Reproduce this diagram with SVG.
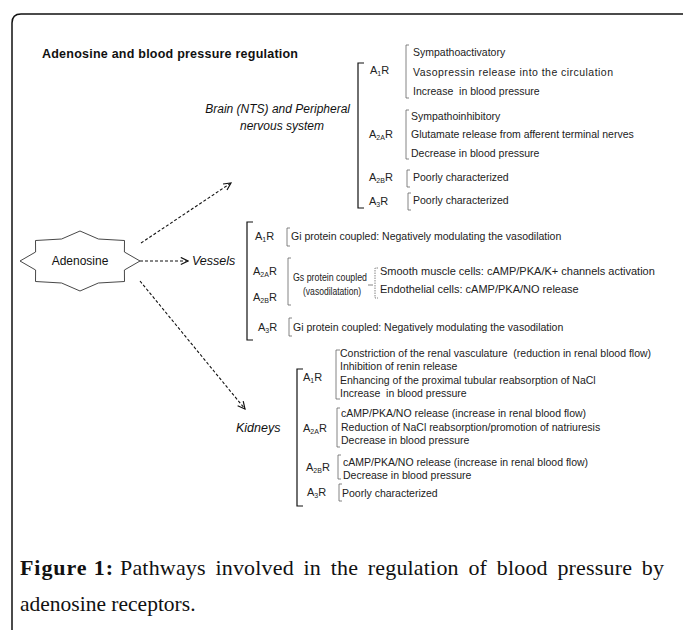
<svg xmlns="http://www.w3.org/2000/svg" width="683" height="630" viewBox="0 0 683 630">
<style>
.t{font-family:"Liberation Sans",Arial,sans-serif;font-size:10.5px;fill:#222}
.it{font-family:"Liberation Sans",Arial,sans-serif;font-style:italic;font-size:12px;fill:#111}
.r{font-family:"Liberation Sans",Arial,sans-serif;font-size:11px;fill:#222}
.s{font-size:7px}
.ttl{font-family:"Liberation Sans",Arial,sans-serif;font-size:12.5px;font-weight:bold;fill:#111}
.br{fill:none;stroke:#111;stroke-width:1.2}
.sb{fill:none;stroke:#666;stroke-width:0.8}
.c{fill:none;stroke:#111;stroke-width:1.1;stroke-dasharray:3 2}
.cap{font-family:"Liberation Serif","Times New Roman",serif;font-size:22px;fill:#111}
</style>
<defs>
<marker id="ah" viewBox="0 0 10 10" refX="9" refY="5" markerWidth="9" markerHeight="9" orient="auto" markerUnits="userSpaceOnUse"><path d="M1,1 L9,5 L1,9" fill="none" stroke="#111" stroke-width="1.3"/></marker>
</defs>
<rect width="683" height="630" fill="#fff"/>
<path d="M12,630 V23 Q12,14 21,14 H683" fill="none" stroke="#111" stroke-width="1.5"/>
<text class="ttl" x="42" y="58" textLength="256" lengthAdjust="spacing">Adenosine and blood pressure regulation</text>

<g id="adenosine">
<polygon points="80,231 98.4,239 124.5,240.5 124.4,252 140,261 124.4,270 124.5,281.5 98.4,283 80,291 61.6,283 35.5,281.5 35.6,270 20,261 35.6,252 35.5,240.5 61.6,239" fill="#fff" stroke="#333" stroke-width="0.9"/>
<text x="80" y="265" text-anchor="middle" style="font-family:'Liberation Sans',Arial,sans-serif;font-size:12px;fill:#111">Adenosine</text>
</g>

<g id="connectors">
<path class="c" d="M141,243 L231,183" marker-end="url(#ah)"/>
<path class="c" d="M140,261 L188,261" marker-end="url(#ah)"/>
<path class="c" d="M140,281 L245,409" marker-end="url(#ah)"/>
</g>

<g id="brain">
<text class="it" x="350" y="113" text-anchor="end">Brain (NTS) and Peripheral</text>
<text class="it" x="282" y="130" text-anchor="middle">nervous system</text>
<path class="br" d="M364,63 H358 V208 H364"/>
<text class="r" x="370" y="74">A<tspan class="s" dy="2">1</tspan><tspan dy="-2">R</tspan></text>
<path class="sb" d="M409,45 H406 V98 H409"/>
<text class="t" x="413" y="56">Sympathoactivatory</text>
<text class="t" x="413" y="76" textLength="200" lengthAdjust="spacing">Vasopressin release into the circulation</text>
<text class="t" x="413" y="95">Increase &#160;in blood pressure</text>
<text class="r" x="369" y="138">A<tspan class="s" dy="2">2A</tspan><tspan dy="-2">R</tspan></text>
<path class="sb" d="M409,110 H406 V159 H409"/>
<text class="t" x="411" y="120">Sympathoinhibitory</text>
<text class="t" x="411" y="138">Glutamate release from afferent terminal nerves</text>
<text class="t" x="411" y="157">Decrease in blood pressure</text>
<text class="r" x="369" y="181">A<tspan class="s" dy="2">2B</tspan><tspan dy="-2">R</tspan></text>
<path class="sb" d="M410,170 H407 V187 H410"/>
<text class="t" x="413" y="181">Poorly characterized</text>
<text class="r" x="369" y="205">A<tspan class="s" dy="2">3</tspan><tspan dy="-2">R</tspan></text>
<path class="sb" d="M411,193 H408 V210 H411"/>
<text class="t" x="413" y="204">Poorly characterized</text>
</g>

<g id="vessels">
<text class="it" x="192" y="265" style="font-size:12.5px">Vessels</text>
<path class="br" d="M253,222 H247 V340 H253"/>
<text class="r" x="255" y="240">A<tspan class="s" dy="2">1</tspan><tspan dy="-2">R</tspan></text>
<path class="sb" d="M290,228 H287 V246 H290"/>
<text class="t" x="291" y="240">Gi protein coupled: Negatively modulating the vasodilation</text>
<text class="r" x="253" y="275">A<tspan class="s" dy="2">2A</tspan><tspan dy="-2">R</tspan></text>
<text class="r" x="253" y="301">A<tspan class="s" dy="2">2B</tspan><tspan dy="-2">R</tspan></text>
<path class="sb" d="M291,258 H288 V305 H291"/>
<text class="t" x="293" y="281" textLength="74" lengthAdjust="spacingAndGlyphs">Gs protein coupled</text>
<text class="t" x="303" y="295" textLength="58" lengthAdjust="spacingAndGlyphs">(vasodilatation)</text>
<path class="sb" d="M368,285 H373"/>
<path class="sb" d="M378,268 H375 V298 H378" stroke-dasharray="1.5 1"/>
<text class="t" x="380" y="275" style="font-size:11px">Smooth muscle cells: cAMP/PKA/K+ channels activation</text>
<text class="t" x="380" y="293" style="font-size:11px">Endothelial cells: cAMP/PKA/NO release</text>
<text class="r" x="258" y="331">A<tspan class="s" dy="2">3</tspan><tspan dy="-2">R</tspan></text>
<path class="sb" d="M292,318 H289 V336 H292"/>
<text class="t" x="293" y="331">Gi protein coupled: Negatively modulating the vasodilation</text>
</g>

<g id="kidneys">
<text class="it" x="236" y="432" style="font-size:12.5px">Kidneys</text>
<path class="br" d="M303,369 H297 V506 H303"/>
<text class="r" x="303" y="381">A<tspan class="s" dy="2">1</tspan><tspan dy="-2">R</tspan></text>
<path class="sb" d="M340,350 H336 V399 H340"/>
<text class="t" x="340" y="357">Constriction of the renal vasculature &#160;(reduction in renal blood flow)</text>
<text class="t" x="340" y="370">Inhibition of renin release</text>
<text class="t" x="340" y="384">Enhancing of the proximal tubular reabsorption of NaCl</text>
<text class="t" x="340" y="397">Increase &#160;in blood pressure</text>
<text class="r" x="303" y="432">A<tspan class="s" dy="2">2A</tspan><tspan dy="-2">R</tspan></text>
<path class="sb" d="M340,408 H337 V447 H340"/>
<text class="t" x="341" y="417">cAMP/PKA/NO release (increase in renal blood flow)</text>
<text class="t" x="341" y="431">Reduction of NaCl reabsorption/promotion of natriuresis</text>
<text class="t" x="341" y="444">Decrease in blood pressure</text>
<text class="r" x="306" y="471">A<tspan class="s" dy="2">2B</tspan><tspan dy="-2">R</tspan></text>
<path class="sb" d="M341,455 H338 V479 H341"/>
<text class="t" x="343" y="466">cAMP/PKA/NO release (increase in renal blood flow)</text>
<text class="t" x="343" y="479">Decrease in blood pressure</text>
<text class="r" x="307" y="496">A<tspan class="s" dy="2">3</tspan><tspan dy="-2">R</tspan></text>
<path class="sb" d="M342,484 H339 V501 H342"/>
<text class="t" x="342" y="497">Poorly characterized</text>
</g>

<text class="cap" x="20" y="575" font-weight="bold" textLength="93" lengthAdjust="spacing">Figure 1:</text>
<text class="cap" x="120" y="575" word-spacing="4" textLength="544" lengthAdjust="spacing">Pathways involved in the regulation of blood pressure by</text>
<text class="cap" x="20" y="611" style="font-size:21.5px">adenosine receptors.</text>
</svg>
